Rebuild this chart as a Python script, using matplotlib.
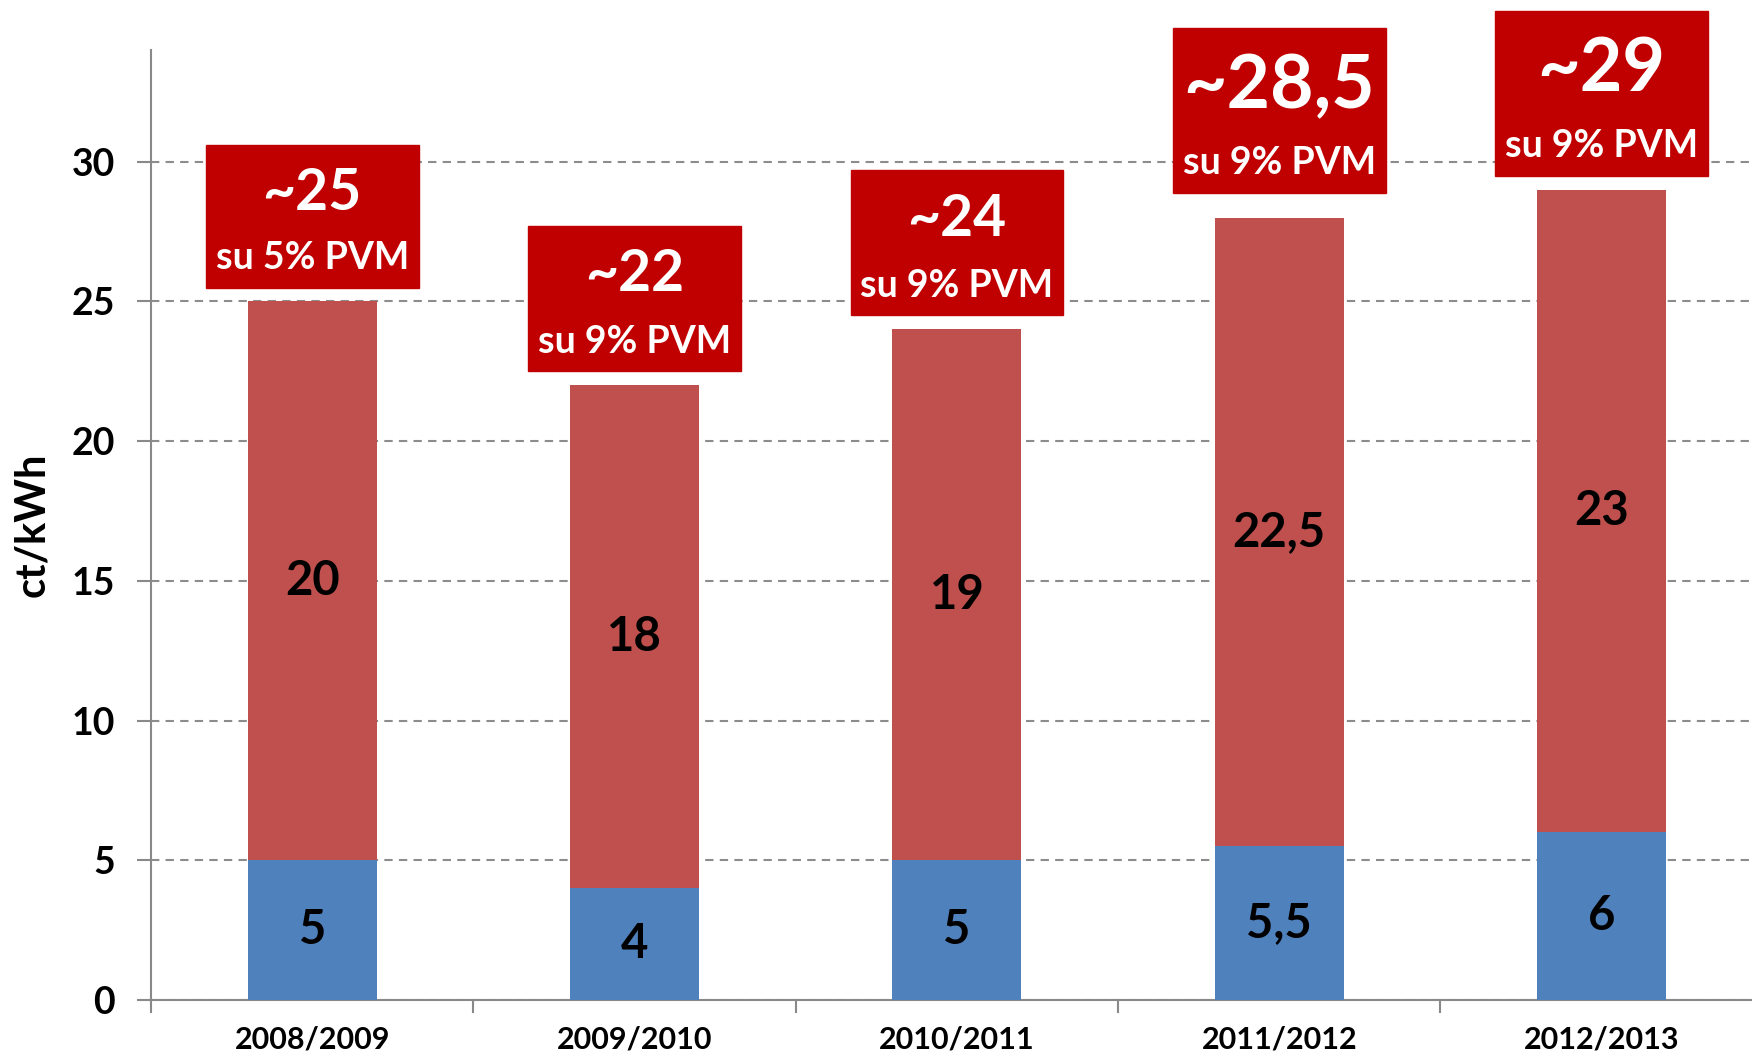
import matplotlib
matplotlib.use("Agg")
import matplotlib.pyplot as plt
from matplotlib.patches import Rectangle

plt.rcParams['font.family'] = ['Lato', 'DejaVu Sans']

# dati (ct/kWh)
seasons = ['2008/2009', '2009/2010', '2010/2011', '2011/2012', '2012/2013']
blue_vals = [5, 4, 5, 5.5, 6]
red_vals = [20, 18, 19, 22.5, 23]
blue_txt = ['5', '4', '5', '5,5', '6']
red_txt = ['20', '18', '19', '22,5', '23']
box_main = ['~25', '~22', '~24', '~28,5', '~29']
box_sub = ['su 5% PVM', 'su 9% PVM', 'su 9% PVM', 'su 9% PVM', 'su 9% PVM']

# stile dei riquadri
box_gap = [0.5, 0.5, 0.5, 0.9, 0.5]
box_h = [5.1, 5.2, 5.2, 5.9, 5.9]
main_dy = [3.35, 3.45, 3.45, 3.8, 3.8]
main_fs = [41, 41, 41, 54, 53]

fig = plt.figure(figsize=(17.52, 10.55), dpi=100)
ax = fig.add_axes([0.0862, 0.0521, 0.920, 0.9005])

x = list(range(len(seasons)))
ax.bar(x, blue_vals, width=0.40, color='#4F81BD', zorder=3)
ax.bar(x, red_vals, width=0.40, bottom=blue_vals, color='#C0504D', zorder=3)

for i in x:
    tot = blue_vals[i] + red_vals[i]
    ax.text(i, blue_vals[i] / 2, blue_txt[i], ha='center', va='center',
            fontsize=34, fontweight='bold', color='black', zorder=4)
    ax.text(i, blue_vals[i] + red_vals[i] / 2, red_txt[i], ha='center', va='center',
            fontsize=34, fontweight='bold', color='black', zorder=4)
    # riquadro rosso con il totale
    y0 = tot + box_gap[i]
    ax.add_patch(Rectangle((i - 0.33, y0), 0.66, box_h[i], color='#C00000',
                           zorder=5, clip_on=False))
    ax.text(i, y0 + main_dy[i], box_main[i], ha='center', va='center',
            fontsize=main_fs[i], fontweight='bold', color='white', zorder=6, clip_on=False)
    ax.text(i, y0 + 1.05, box_sub[i], ha='center', va='center',
            fontsize=27, fontweight='bold', color='white', zorder=6, clip_on=False)

ax.set_xlim(-0.5, len(seasons) - 0.5)
ax.set_ylim(0, 34)
ax.set_yticks(range(0, 31, 5))
ax.set_xticks(x)
ax.set_xticklabels(seasons, fontsize=22, fontweight='bold')
ax.set_xticks([i - 0.5 for i in range(len(seasons) + 1)], minor=True)
ax.tick_params(axis='x', which='major', length=0, pad=18)
ax.tick_params(axis='x', which='minor', length=9, width=1.5, color='#898989')
ax.tick_params(axis='y', length=10, width=1.5, color='#898989', pad=16, labelsize=27)
for lab in ax.get_yticklabels():
    lab.set_fontweight('bold')

ax.yaxis.grid(True, linestyle=(0, (4, 3)), color='#8c8c8c', linewidth=1.5, zorder=0)
ax.set_axisbelow(True)

for s in ['top', 'right']:
    ax.spines[s].set_visible(False)
for s in ['left', 'bottom']:
    ax.spines[s].set_color('#898989')
    ax.spines[s].set_linewidth(1.5)

ax.set_ylabel('ct/kWh', fontsize=30, fontweight='bold')
ax.yaxis.set_label_coords(-0.062, 0.5)

plt.savefig('out.png', dpi=100)
plt.close()
